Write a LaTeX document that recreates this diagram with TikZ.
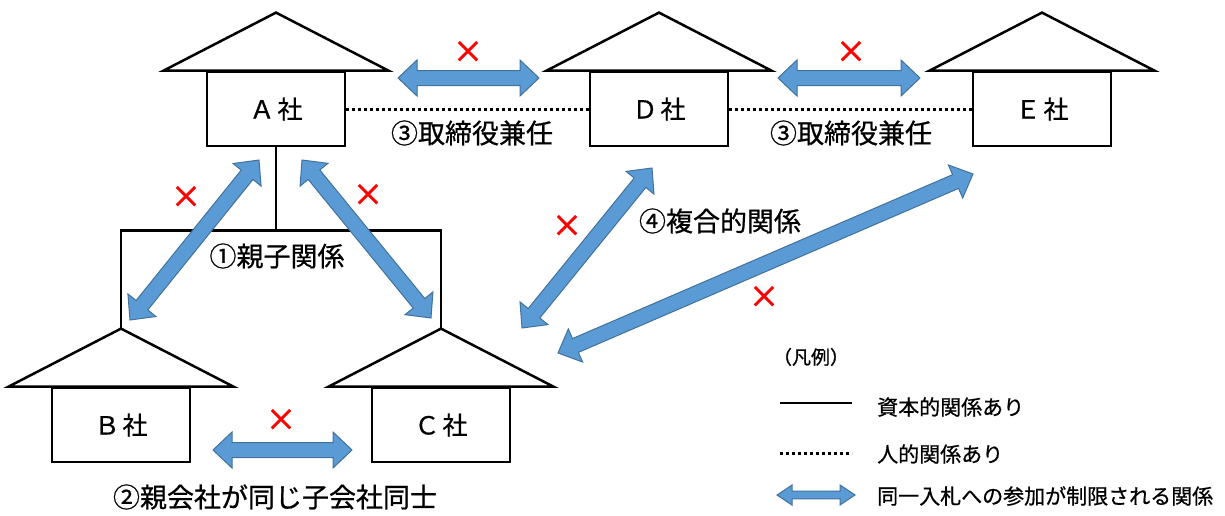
\documentclass[tikz,border=0pt]{standalone}
\usepackage{fontspec}
\setmainfont{Noto Sans CJK JP}[FakeBold=0.7]
\newfontfamily\xmarkfont{Noto Sans CJK JP}[FakeBold=2.5]
\usetikzlibrary{calc}
\definecolor{arrfill}{HTML}{5B9BD5}
\definecolor{arrline}{HTML}{41719C}
\tikzset{
  housebox/.style={draw=black, line width=2.8pt, minimum width=138pt, minimum height=74pt, inner sep=0pt,
    font=\fontsize{25pt}{28pt}\selectfont},
  roof/.style={draw=black, line width=2.5pt, line join=miter},
  capital/.style={draw=black, line width=2.8pt},
  personal/.style={draw=black, line width=3pt, dash pattern=on 3pt off 3pt},
  blockarrow/.style={fill=arrfill, draw=arrline, line width=1pt, line join=miter},
  lbl/.style={inner sep=0pt, font=\fontsize{27pt}{30pt}\selectfont},
  legtext/.style={inner sep=0pt, anchor=west, font=\fontsize{21pt}{24pt}\selectfont},
  xmark/.style={inner sep=0pt, text=red, font=\xmarkfont\fontsize{30pt}{32pt}\selectfont},
}
\newcommand\blockarr[5]{%
  \coordinate (ba1) at ($(#1)!#3!(#2)$);
  \coordinate (ba2) at ($(#2)!#3!(#1)$);
  \filldraw[blockarrow] (#1) -- ($(ba1)!#4!90:(#2)$) -- ($(ba1)!#5!90:(#2)$)
    -- ($(ba2)!#5!90:(#2)$) -- ($(ba2)!#4!90:(#2)$) -- (#2)
    -- ($(ba2)!#4!-90:(#2)$) -- ($(ba2)!#5!-90:(#2)$)
    -- ($(ba1)!#5!-90:(#2)$) -- ($(ba1)!#4!-90:(#2)$) -- cycle;}
\newcommand\houseroof[1]{%
  \draw[roof] ($(#1.north west)+(-42,0)$) -- ($(#1.north)+(0,-58)$) -- ($(#1.north east)+(42,0)$) -- cycle;}
\begin{document}
\begin{tikzpicture}[x=1pt,y=-1pt]
\useasboundingbox (0,0) rectangle (1225,515);
% houses
\node[housebox] (A) at (276,109) {Ａ\hspace{3pt}社};
\node[housebox] (D) at (659,109) {Ｄ\hspace{3pt}社};
\node[housebox] (E) at (1042,109) {Ｅ\hspace{3pt}社};
\node[housebox] (B) at (121,425) {Ｂ\hspace{3pt}社};
\node[housebox] (C) at (441,425) {Ｃ\hspace{3pt}社};
\houseroof{A}
\houseroof{D}
\houseroof{E}
\houseroof{B}
\houseroof{C}
\coordinate (Bapex) at ($(B.north)+(0,-58)$);
\coordinate (Capex) at ($(C.north)+(0,-58)$);
% capital tree
\coordinate (fork) at ($(A.south)+(0,83)$);
\draw[capital] (A.south) -- (fork);
\draw[capital] (Bapex) |- (fork) -| (Capex);
% personal links
\draw[personal] (A.east) -- (D.west);
\draw[personal] (D.east) -- (E.west);
% block arrows
\coordinate (ad1) at (398,78);  \coordinate (ad2) at (539,78);
\coordinate (de1) at (778,78);  \coordinate (de2) at (920,78);
\coordinate (bc1) at (213,450); \coordinate (bc2) at (352,450);
\coordinate (ab1) at (259,160); \coordinate (ab2) at (130,320);
\coordinate (ac1) at (302,160); \coordinate (ac2) at (431,318);
\coordinate (dc1) at (652,168); \coordinate (dc2) at (522,328);
\coordinate (ec1) at (973,174); \coordinate (ec2) at (558,353);
\blockarr{ad1}{ad2}{19pt}{18pt}{7.5pt}
\blockarr{de1}{de2}{19pt}{18pt}{7.5pt}
\blockarr{bc1}{bc2}{19pt}{18pt}{7.5pt}
\blockarr{ab1}{ab2}{19pt}{18pt}{7.5pt}
\blockarr{ac1}{ac2}{19pt}{18pt}{7.5pt}
\blockarr{dc1}{dc2}{19pt}{18pt}{7.5pt}
\blockarr{ec1}{ec2}{19pt}{18pt}{7.5pt}
% x marks
\node[xmark] (xad) at (468,52) {×};
\node[xmark] (xde) at (851,52) {×};
\node[xmark] (xbc) at (281,420) {×};
\node[xmark] (xab) at (186,197) {×};
\node[xmark] (xac) at (368,195) {×};
\node[xmark] (xdc) at (567,226) {×};
\node[xmark] (xec) at (764,297) {×};
% labels
\node[lbl] (l3a) at (472,133) {③取締役兼任};
\node[lbl] (l3b) at (851,133) {③取締役兼任};
\node[lbl] (l1) at (277,256) {①親子関係};
\node[lbl] (l4) at (720,221) {④複合的関係};
\node[lbl] (l2) at (275,497) {②親会社が同じ子会社同士};
% legend
\node[inner sep=0pt, font=\fontsize{19pt}{22pt}\selectfont] (leg) at (811,357) {（凡例）};
\coordinate (ls1) at (780,403); \coordinate (ls2) at (852,403);
\draw[capital] (ls1) -- (ls2);
\node[legtext] (lt1) at (877,407) {資本的関係あり};
\coordinate (lp1) at (780,453); \coordinate (lp2) at (852,453);
\draw[personal] (lp1) -- (lp2);
\node[legtext] (lt2) at (877,454) {人的関係あり};
\coordinate (la1) at (777,495); \coordinate (la2) at (855,495);
\blockarr{la1}{la2}{15pt}{10pt}{3.8pt}
\node[legtext] (lt3) at (877,496) {同一入札への参加が制限される関係};
\end{tikzpicture}
\end{document}
